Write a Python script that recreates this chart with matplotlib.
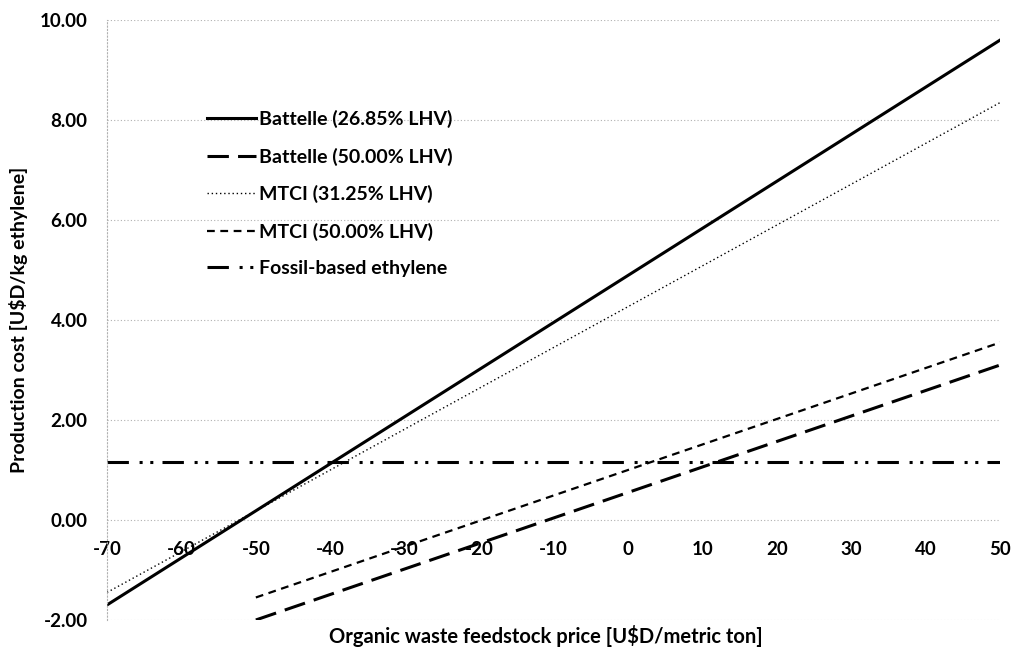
import matplotlib
matplotlib.use("Agg")
import matplotlib.pyplot as plt

plt.rcParams['font.family'] = ['Lato', 'DejaVu Sans']
plt.rcParams['font.weight'] = 'bold'

# feedstock price endpoints [USD/metric ton] and production cost [USD/kg]
x_full = [-70, 50]
x_half = [-50, 50]
battelle_2685 = [-1.70, 9.60]
battelle_50 = [-2.00, 3.10]
mtci_3125 = [-1.45, 8.35]
mtci_50 = [-1.55, 3.55]
fossil = [1.15, 1.15]

x_ticks = [-70, -60, -50, -40, -30, -20, -10, 0, 10, 20, 30, 40, 50]
y_ticks = [-2, 0, 2, 4, 6, 8, 10]

fig = plt.figure(figsize=(10.15, 6.5), dpi=100)
ax = fig.add_axes([0.1054, 0.0462, 0.880, 0.923])

ax.plot(x_full, battelle_2685, color='black', lw=2.2, ls='-', label='Battelle (26.85% LHV)')
ax.plot(x_half, battelle_50, color='black', lw=2.2, ls=(0, (7, 3)), label='Battelle (50.00% LHV)')
ax.plot(x_full, mtci_3125, color='black', lw=1.0, ls=(0, (1, 2)), label='MTCI (31.25% LHV)')
ax.plot(x_half, mtci_50, color='black', lw=1.6, ls=(0, (3.5, 2.5)), label='MTCI (50.00% LHV)')
ax.plot(x_full, fossil, color='black', lw=2.2, ls=(0, (7, 3.5, 1, 2.5, 1, 3)), label='Fossil-based ethylene')

ax.set_xlim(-70, 50)
ax.set_ylim(-2, 10)
ax.set_xticks(x_ticks)
ax.set_yticks(y_ticks)
ax.set_yticklabels([f"{v:.2f}" for v in y_ticks])
ax.set_xticklabels([str(v) for v in x_ticks])

ax.grid(axis='y', color='#b0b0b0', ls=(0, (1, 2)), lw=0.8)
for s in ['top', 'right']:
    ax.spines[s].set_visible(False)
ax.spines['bottom'].set_position(('data', 0))
ax.spines['bottom'].set_visible(False)
ax.spines['left'].set_color('#b0b0b0')
ax.spines['left'].set_linestyle((0, (1, 2)))
ax.spines['left'].set_linewidth(0.8)
ax.tick_params(axis='both', length=0, labelsize=13.5)
ax.tick_params(axis='y', pad=14)
ax.tick_params(axis='x', pad=15)

ax.set_ylabel('Production cost [U$D/kg ethylene]', fontsize=14, fontweight='bold')
ax.yaxis.set_label_coords(-0.088, 0.5)
ax.set_xlabel('Organic waste feedstock price [U$D/metric ton]', fontsize=14.5, fontweight='bold')
ax.xaxis.set_label_coords(0.4916, -0.008)

leg = ax.legend(loc='upper left', bbox_to_anchor=(0.112, 0.85), frameon=False,
                fontsize=14, handlelength=2.5, handletextpad=0.15, labelspacing=1.0,
                borderpad=0, borderaxespad=0)

fig.savefig('out.png', dpi=100)
